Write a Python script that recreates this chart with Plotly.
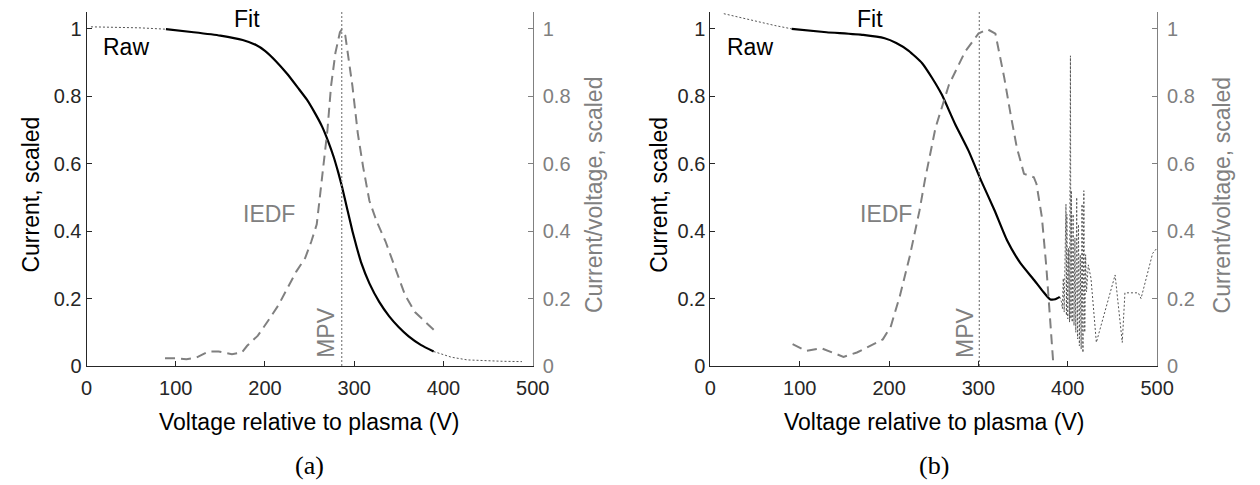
import plotly.graph_objects as go

# ---------------- panel (a) ----------------
raw_a_head_v = [5, 30, 60, 89]
raw_a_head_i = [1.006, 1.005, 1.003, 0.999]
raw_a_tail_v = [389, 409, 427, 446, 466, 488]
raw_a_tail_i = [0.043, 0.026, 0.018, 0.015, 0.014, 0.013]

fit_a_v = [89, 120, 150, 175, 190, 200, 212, 225, 237, 247, 256, 264, 271, 277, 282, 286, 290, 294, 298,
           303, 308, 317, 328, 339, 350, 361, 375, 389]
fit_a_i = [0.999, 0.99, 0.98, 0.967, 0.952, 0.935, 0.905, 0.866, 0.825, 0.79, 0.75, 0.71, 0.665, 0.62, 0.575,
           0.535, 0.49, 0.445, 0.40, 0.35, 0.305, 0.245, 0.19, 0.148, 0.115, 0.088, 0.062, 0.043]

iedf_a_v = [88, 101, 112, 123, 137, 148, 163, 174, 180, 192, 205, 215, 225, 235, 245, 252, 258, 263, 267, 270,
            274, 279, 284, 286, 290, 294, 298, 304, 310, 317, 325, 335, 347, 357, 368, 380, 390]
iedf_a_f = [0.023, 0.023, 0.02, 0.025, 0.043, 0.043, 0.035, 0.04, 0.06, 0.09, 0.14, 0.18, 0.23, 0.28, 0.32, 0.37,
            0.42, 0.53, 0.62, 0.70, 0.83, 0.93, 0.99, 0.998, 0.98, 0.90, 0.83, 0.69, 0.59, 0.49, 0.43, 0.37, 0.28,
            0.21, 0.16, 0.13, 0.105]

mpv_a = 286

# ---------------- panel (b) ----------------
raw_b_head_v = [15, 35, 54, 72, 91]
raw_b_head_i = [1.045, 1.032, 1.021, 1.01, 1.0]
raw_b_tail_v = [391, 393, 394, 395, 396, 397, 398, 398.5, 399, 400, 401, 402, 403, 403.5, 404, 405, 406, 407,
                408, 409, 410, 411, 412, 413, 414, 415, 416, 417, 418, 419, 420, 421, 423, 426, 432, 453, 461,
                464, 479, 482, 495, 500]
raw_b_tail_i = [0.205, 0.19, 0.17, 0.26, 0.16, 0.30, 0.48, 0.15, 0.45, 0.14, 0.35, 0.13, 0.92, 0.14, 0.52, 0.13,
                0.45, 0.12, 0.38, 0.10, 0.50, 0.08, 0.42, 0.06, 0.33, 0.05, 0.48, 0.04, 0.52, 0.10, 0.33, 0.22,
                0.30, 0.26, 0.07, 0.27, 0.07, 0.217, 0.217, 0.20, 0.334, 0.35]

fit_b_v = [91, 130, 171, 195, 208, 222, 237, 248, 259, 274, 289, 303, 318, 332, 347, 362, 372, 380, 386, 391]
fit_b_i = [1.0, 0.99, 0.982, 0.972, 0.958, 0.935, 0.898, 0.855, 0.805, 0.717, 0.638, 0.55, 0.462, 0.373, 0.305,
           0.256, 0.222, 0.198, 0.198, 0.205]

iedf_b_v = [92, 107, 124, 149, 164, 193, 202, 212, 223, 234, 240, 252, 267, 285, 300, 310, 319, 329, 336, 343,
            351, 362, 365, 371, 376, 380, 384]
iedf_b_f = [0.065, 0.045, 0.053, 0.027, 0.04, 0.079, 0.118, 0.207, 0.324, 0.46, 0.55, 0.707, 0.834, 0.932, 0.986,
            0.999, 0.986, 0.854, 0.747, 0.648, 0.57, 0.56, 0.54, 0.442, 0.295, 0.148, 0.0]

mpv_b = 301

x_ticks = [0, 100, 200, 300, 400, 500]
y_ticks = [0, 0.2, 0.4, 0.6, 0.8, 1]

DARK = "#262626"
GREY = "#808080"
FONT = "Liberation Sans"
TICK_SIZE = 20
LABEL_SIZE = 23

fig = go.Figure()


def add_panel(xa, y_left, y_right, raw_h_v, raw_h_i, raw_t_v, raw_t_i, fit_v, fit_i, iedf_v, iedf_f, mpv):
    # raw measured current (dotted), shown where the fit does not cover it
    fig.add_trace(go.Scatter(x=raw_h_v + [None] + raw_t_v, y=raw_h_i + [None] + raw_t_i,
                             mode="lines", line=dict(color="#555555", width=1.0, dash="2px,2px"),
                             xaxis=xa, yaxis=y_left, connectgaps=False))
    # fitted current (solid)
    fig.add_trace(go.Scatter(x=fit_v, y=fit_i, mode="lines",
                             line=dict(color="black", width=2.2, shape="spline", smoothing=0.5),
                             xaxis=xa, yaxis=y_left))
    # ion energy distribution (dashed, right axis)
    fig.add_trace(go.Scatter(x=iedf_v, y=iedf_f, mode="lines",
                             line=dict(color=GREY, width=2, dash="10px,6px"),
                             xaxis=xa, yaxis=y_right))
    # most probable voltage marker
    fig.add_trace(go.Scatter(x=[mpv, mpv], y=[0, 1.05], mode="lines",
                             line=dict(color=GREY, width=1.2, dash="2px,2px"),
                             xaxis=xa, yaxis=y_right))


add_panel("x", "y", "y2", raw_a_head_v, raw_a_head_i, raw_a_tail_v, raw_a_tail_i,
          fit_a_v, fit_a_i, iedf_a_v, iedf_a_f, mpv_a)
add_panel("x2", "y3", "y4", raw_b_head_v, raw_b_head_i, raw_b_tail_v, raw_b_tail_i,
          fit_b_v, fit_b_i, iedf_b_v, iedf_b_f, mpv_b)

W, H = 1260, 485
TOP, BOTTOM = 12, 119
PLOT_H = H - TOP - BOTTOM
dom_a = [82 / W, 536.5 / W]
dom_b = [717.5 / W, 1172.5 / W]

xcommon = dict(range=[0, 500], tickvals=x_ticks, ticks="inside", ticklen=5, tickcolor=DARK,
               showline=True, linecolor=DARK, linewidth=1, showgrid=False, zeroline=False,
               ticklabelstandoff=4,
               tickfont=dict(family=FONT, size=TICK_SIZE, color=DARK))
yleft = dict(range=[0, 1.05], tickvals=y_ticks, ticks="inside", ticklen=5, tickcolor=DARK,
             showline=True, linecolor=DARK, linewidth=1, showgrid=False, zeroline=False,
             tickfont=dict(family=FONT, size=TICK_SIZE, color=DARK))
yright = dict(range=[0, 1.05], tickvals=y_ticks, ticks="inside", ticklen=5, tickcolor=GREY,
              showline=True, linecolor=GREY, linewidth=1, showgrid=False, zeroline=False,
              side="right", ticklabelstandoff=5,
              tickfont=dict(family=FONT, size=TICK_SIZE, color=GREY))

fig.update_layout(
    width=W, height=H,
    margin=dict(l=0, r=0, t=TOP, b=BOTTOM),
    plot_bgcolor="white", paper_bgcolor="white",
    showlegend=False,
    xaxis=dict(domain=dom_a, anchor="y", **xcommon),
    yaxis=dict(anchor="x", **yleft),
    yaxis2=dict(anchor="x", overlaying="y", **yright),
    xaxis2=dict(domain=dom_b, anchor="y3", **xcommon),
    yaxis3=dict(anchor="x2", **yleft),
    yaxis4=dict(anchor="x2", overlaying="y3", **yright),
)


def px_x(px):
    return px / W


def px_y(py):
    return (H - BOTTOM - py) / PLOT_H


def label(**kw):
    kw.setdefault("xanchor", "center")
    kw.setdefault("yanchor", "middle")
    kw.setdefault("showarrow", False)
    return dict(**kw)


annotations = []
# in-plot labels
for xa, ya, yr, raw_x, fit_x, iedf_x, mpv_x in [("x", "y", "y2", 44, 179.5, 204, 269),
                                                ("x2", "y3", "y4", 44.5, 178.6, 196, 285.7)]:
    annotations += [
        label(x=raw_x, y=0.947, xref=xa, yref=ya, text="Raw",
              font=dict(family=FONT, size=LABEL_SIZE, color="black")),
        label(x=fit_x, y=1.03, xref=xa, yref=ya, text="Fit",
              font=dict(family=FONT, size=LABEL_SIZE, color="black")),
        label(x=iedf_x, y=0.452, xref=xa, yref=yr, text="IEDF",
              font=dict(family=FONT, size=LABEL_SIZE, color=GREY)),
        label(x=mpv_x, y=0.10, xref=xa, yref=yr, text="MPV", textangle=-90,
              font=dict(family=FONT, size=LABEL_SIZE, color=GREY)),
    ]

# axis titles and panel captions
for cx, left_px, right_px, caption in [(309, 25, 599, "(a)"), (945, 665, 1239, "(b)")]:
    annotations += [
        label(x=px_x(cx), y=px_y(422), xref="paper", yref="paper", text="Voltage relative to plasma (V)",
              font=dict(family=FONT, size=LABEL_SIZE, color="black")),
        label(x=px_x(left_px), y=px_y(195), xref="paper", yref="paper", text="Current, scaled",
              textangle=-90, font=dict(family=FONT, size=LABEL_SIZE, color="black")),
        label(x=px_x(right_px), y=px_y(195), xref="paper", yref="paper", text="Current/voltage, scaled",
              textangle=-90, font=dict(family=FONT, size=LABEL_SIZE, color=GREY)),
        label(x=px_x(cx), y=px_y(465), xref="paper", yref="paper", text=caption,
              font=dict(family="Liberation Serif", size=26, color="black")),
    ]

fig.update_layout(annotations=annotations)

fig.write_html("out.html")
